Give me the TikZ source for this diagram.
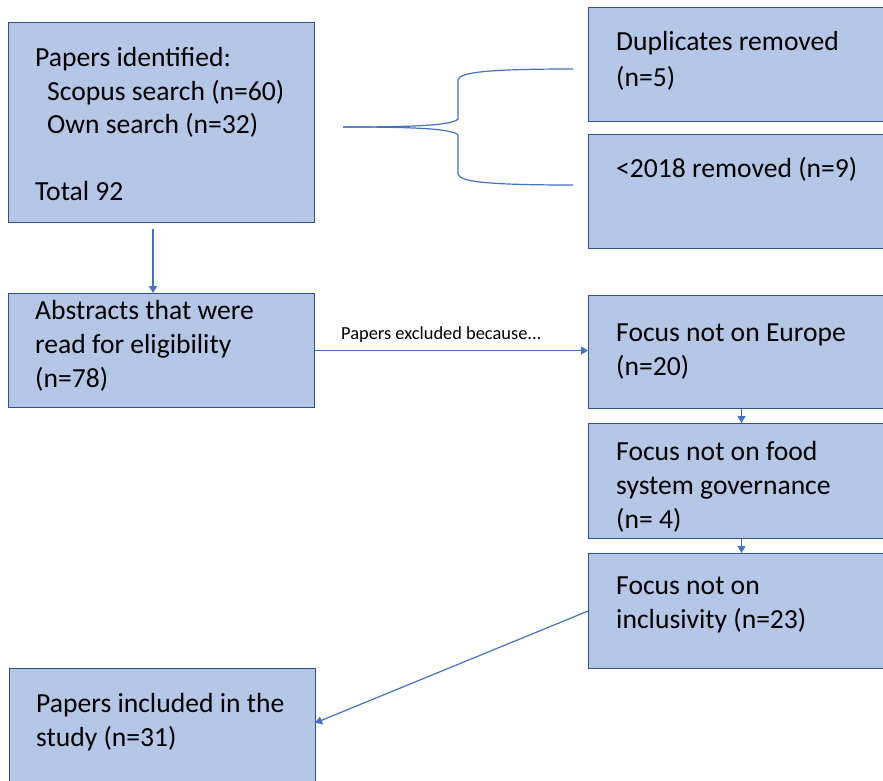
\documentclass[tikz,border=0pt]{standalone}
\usepackage{fontspec}
\setmainfont{Carlito}
\usetikzlibrary{arrows.meta}
\definecolor{boxfill}{HTML}{B4C7E7}
\definecolor{boxline}{HTML}{2F528F}
\definecolor{linkblue}{HTML}{4472C4}
\begin{document}
\begin{tikzpicture}[x=1pt,y=-1pt,
  box/.style={draw=boxline, fill=boxfill, line width=1.1pt, inner sep=0pt, anchor=north west},
  txt/.style={anchor=base west, inner sep=0pt, font=\fontsize{27.6}{33}\selectfont},
  note/.style={anchor=base west, inner sep=0pt, font=\fontsize{18.4}{22}\selectfont},
  link/.style={draw=linkblue, line width=1.2pt, -{Triangle[width=8pt,length=7pt]}},
  brace/.style={draw=linkblue, line width=1.2pt},
]
\clip (0,0) rectangle (883,780);
\fill[white] (0,0) rectangle (883,780);

% left column
\node[box, minimum width=306pt, minimum height=200pt] (ident) at (8,22) {};
\node[box, minimum width=306pt, minimum height=114pt] (abstr) at (8,293) {};
\node[box, minimum width=306pt, minimum height=125pt] (incl) at (9,668) {};

% right column
\node[box, minimum width=302pt, minimum height=114pt] (dup) at (588,7) {};
\node[box, minimum width=302pt, minimum height=114pt] (old) at (588,134) {};
\node[box, minimum width=302pt, minimum height=113pt] (eu) at (588,295) {};
\node[box, minimum width=302pt, minimum height=115pt] (food) at (588,423) {};
\node[box, minimum width=302pt, minimum height=115pt] (inc) at (588,553) {};

% texts
\node[txt] (t1) at (35,66) {Papers identified:};
\node[txt] (t2) at (47,100) {Scopus search (n=60)};
\node[txt] (t3) at (47,133) {Own search (n=32)};
\node[txt] (t4) at (35,200) {Total 92};

\node[txt] (t5) at (35,319) {Abstracts that were};
\node[txt] (t6) at (35,353) {read for eligibility};
\node[txt] (t7) at (35,387) {(n=78)};

\node[txt] (t8) at (36,712) {Papers included in the};
\node[txt] (t9) at (36,746) {study (n=31)};

\node[txt] (t10) at (616,50) {Duplicates removed};
\node[txt] (t11) at (616,86) {(n=5)};
\node[txt] (t12) at (616,177) {<2018 removed (n=9)};

\node[txt] (t13) at (616,341) {Focus not on Europe};
\node[txt] (t14) at (616,375) {(n=20)};

\node[txt] (t15) at (616,460) {Focus not on food};
\node[txt] (t16) at (616,494) {system governance};
\node[txt] (t17) at (616,528) {(n= 4)};

\node[txt] (t18) at (616,594) {Focus not on};
\node[txt] (t19) at (616,628) {inclusivity (n=23)};

\node[note] (why) at (341,339) {Papers excluded because...};

% connectors
\coordinate (down) at (153,229);
\draw[link] (down) -- (down |- abstr.north);
\draw[link] (abstr.east) -- (abstr.east -| eu.west);
\coordinate (col) at (741.5,0);
\draw[link] (eu.south -| col) -- (food.north -| col);
\draw[link] (food.south -| col) -- (inc.north -| col);
\coordinate (res) at (315,723);
\draw[link] (inc.west) -- (res);

% brace towards the two removal boxes
\coordinate (tip) at (343,127);
\draw[brace] (tip) .. controls (405,127) and (452,126) .. (458,119)
  -- (458,80) .. controls (459,72) and (490,69) .. (573,69);
\draw[brace] (tip) .. controls (405,127) and (452,128) .. (458,135)
  -- (458,174) .. controls (459,182) and (490,185) .. (573,185);
\end{tikzpicture}
\end{document}
